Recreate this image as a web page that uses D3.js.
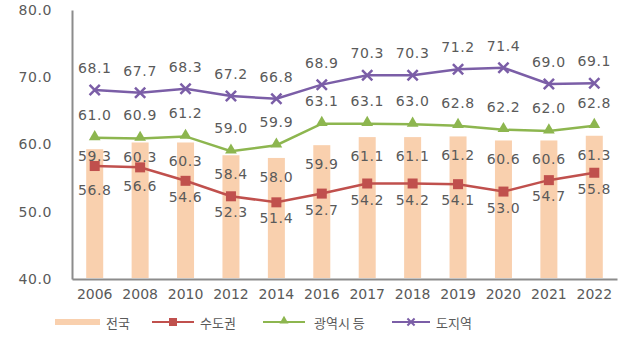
<!DOCTYPE html>
<html><head><meta charset="utf-8">
<script src="https://cdn.jsdelivr.net/npm/d3@7"></script>
<style>body{margin:0;background:#fff}svg{display:block}</style>
</head><body>
<svg id="c" width="640" height="344"></svg>
<script>
const years = ["2006","2008","2010","2012","2014","2016","2017","2018","2019","2020","2021","2022"];
const national = [59.3,60.3,60.3,58.4,58.0,59.9,61.1,61.1,61.2,60.6,60.6,61.3];
const capital = [56.8,56.6,54.6,52.3,51.4,52.7,54.2,54.2,54.1,53.0,54.7,55.8];
const metro = [61.0,60.9,61.2,59.0,59.9,63.1,63.1,63.0,62.8,62.2,62.0,62.8];
const province = [68.1,67.7,68.3,67.2,66.8,68.9,70.3,70.3,71.2,71.4,69.0,69.1];
const yTicks = [40,50,60,70,80];
const names = ["전국","수도권","광역시 등","도지역"];

(function(){
const svg = d3.select("#c");
const pL = 72, pR = 617, pT = 10, pB = 279;
const x = d3.scaleBand().domain(years).range([pL, pR]).padding(0);
const y = d3.scaleLinear().domain([40, 80]).range([pB, pT]);
const cx = d => x(d) + x.bandwidth() / 2;
const barW = 17;
const textColor = "#5a5a5a";
const font = "DejaVu Sans, Verdana, sans-serif";
const cBar = "#F9D0AE", cRed = "#C0504D", cGreen = "#8DB64F", cPurple = "#7B5EA7";

const yAxis = d3.axisLeft(y).tickValues(yTicks).tickFormat(d3.format(".1f")).tickSize(0).tickPadding(20);
const gy = svg.append("g").attr("transform", `translate(${pL},0)`).call(yAxis);
gy.select(".domain").attr("stroke", "#8c8c8c").attr("stroke-width", 2);
gy.selectAll("text").attr("fill", textColor).attr("font-family", font).attr("font-size", 14).attr("letter-spacing", 0.6);

const xAxis = d3.axisBottom(x).tickSize(0).tickPadding(10);
const gx = svg.append("g").attr("transform", `translate(0,${pB})`).call(xAxis);
gx.select(".domain").attr("stroke", "#8c8c8c").attr("stroke-width", 2);
gx.selectAll("text").attr("fill", textColor).attr("font-family", font).attr("font-size", 14);

svg.append("g").selectAll("rect").data(years).join("rect")
  .attr("x", (d) => cx(d) - barW / 2)
  .attr("y", (d, i) => y(national[i]))
  .attr("width", barW)
  .attr("height", (d, i) => y(40) - y(national[i]) - 1)
  .attr("fill", cBar);

function drawLine(vals, color) {
  const line = d3.line().x((d, i) => cx(years[i])).y(d => y(d));
  svg.append("path").datum(vals).attr("d", line).attr("fill", "none")
    .attr("stroke", color).attr("stroke-width", 2.5);
}
drawLine(capital, cRed);
drawLine(metro, cGreen);
drawLine(province, cPurple);

svg.append("g").selectAll("rect").data(capital).join("rect")
  .attr("x", (d, i) => cx(years[i]) - 5).attr("y", d => y(d) - 5)
  .attr("width", 10).attr("height", 10).attr("fill", cRed);
const tri = d3.symbol().type(d3.symbolTriangle).size(60);
svg.append("g").selectAll("path").data(metro).join("path")
  .attr("d", tri).attr("transform", (d, i) => `translate(${cx(years[i])},${y(d) - 1})`)
  .attr("fill", cGreen);
const cross = d3.symbol().type(d3.symbolTimes).size(70);
svg.append("g").selectAll("path").data(province).join("path")
  .attr("d", cross).attr("transform", (d, i) => `translate(${cx(years[i])},${y(d)})`)
  .attr("fill", "none").attr("stroke", cPurple).attr("stroke-width", 2.5);

function labels(vals, posFn) {
  svg.append("g").selectAll("text").data(vals).join("text")
    .attr("x", (d, i) => cx(years[i])).attr("y", posFn)
    .attr("text-anchor", "middle").attr("dominant-baseline", "central")
    .attr("fill", textColor).attr("font-family", font).attr("font-size", 14).attr("letter-spacing", 0.6)
    .text(d => d3.format(".1f")(d));
}
// bar labels sit inside the bar top, nudged above the red marker when they would collide
labels(national, (d, i) => Math.min(y(d) + 19, y(capital[i]) - 10));
labels(capital, (d, i) => Math.max(y(d) + 16, Math.min(y(d) + 24, y(national[i]) + 44)));
labels(metro, d => y(d) - 23);
labels(province, d => y(d) - 22);

const ly = 322;
const lg = svg.append("g").attr("font-family", "Noto Sans CJK KR, sans-serif").attr("font-size", 13).attr("fill", textColor);
lg.append("rect").attr("x", 55).attr("y", ly - 3).attr("width", 45).attr("height", 6).attr("fill", cBar);
lg.append("text").attr("x", 106).attr("y", ly).attr("dominant-baseline", "central").text(names[0]);
lg.append("line").attr("x1", 152).attr("x2", 194).attr("y1", ly).attr("y2", ly).attr("stroke", cRed).attr("stroke-width", 2);
lg.append("rect").attr("x", 169).attr("y", ly - 4).attr("width", 8).attr("height", 8).attr("fill", cRed);
lg.append("text").attr("x", 200).attr("y", ly).attr("dominant-baseline", "central").text(names[1]);
lg.append("line").attr("x1", 263).attr("x2", 305).attr("y1", ly).attr("y2", ly).attr("stroke", cGreen).attr("stroke-width", 2);
lg.append("path").attr("d", d3.symbol().type(d3.symbolTriangle).size(35)).attr("transform", `translate(284,${ly - 1})`).attr("fill", cGreen);
lg.append("text").attr("x", 314).attr("y", ly).attr("dominant-baseline", "central").text(names[2]);
lg.append("line").attr("x1", 392).attr("x2", 430).attr("y1", ly).attr("y2", ly).attr("stroke", cPurple).attr("stroke-width", 2);
lg.append("path").attr("d", d3.symbol().type(d3.symbolTimes).size(35)).attr("transform", `translate(411,${ly})`).attr("fill", "none").attr("stroke", cPurple).attr("stroke-width", 2);
lg.append("text").attr("x", 436).attr("y", ly).attr("dominant-baseline", "central").text(names[3]);
})();
</script>
</body></html>
